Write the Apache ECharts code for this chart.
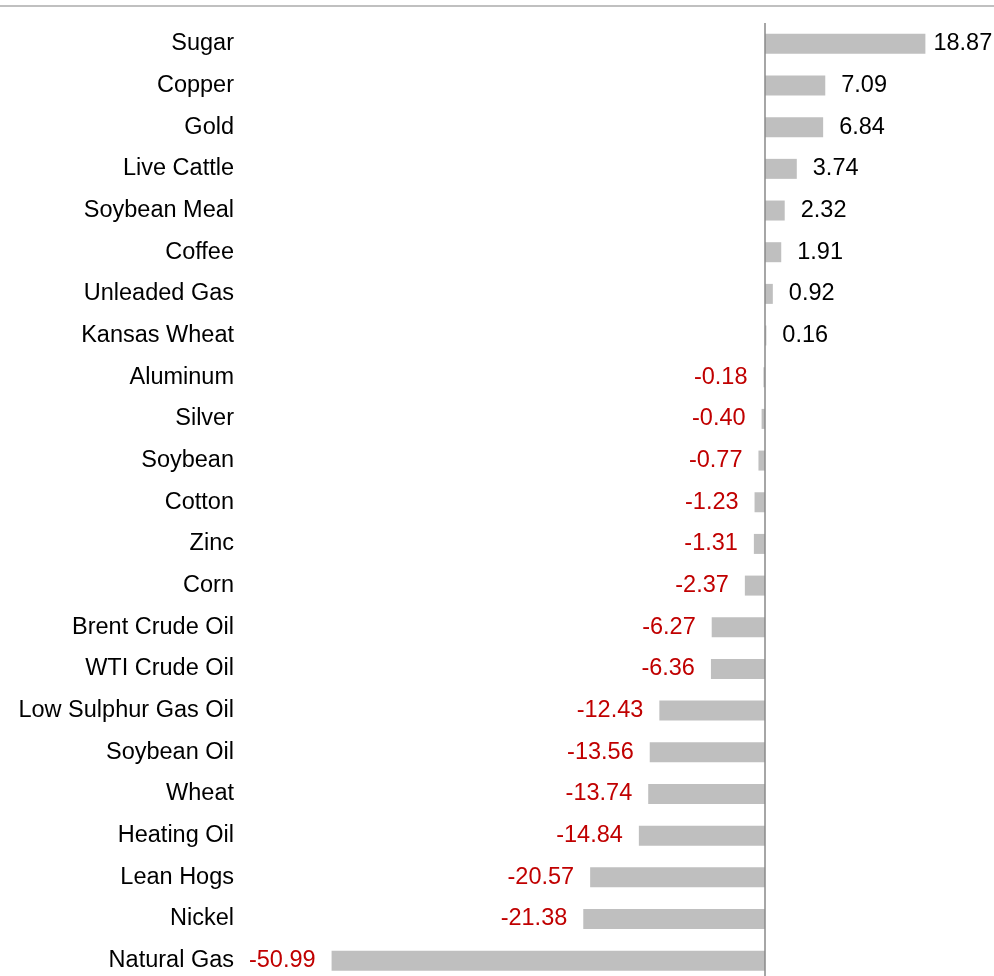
<!DOCTYPE html>
<html>
<head>
<meta charset="utf-8">
<script src="https://cdn.jsdelivr.net/npm/echarts@6/dist/echarts.min.js"></script>
<style>
html,body{margin:0;padding:0;background:#fff;}
#chart{width:994px;height:976px;}
</style>
</head>
<body>
<div id="chart"></div>
<script>
const categories = ["Sugar","Copper","Gold","Live Cattle","Soybean Meal","Coffee","Unleaded Gas","Kansas Wheat","Aluminum","Silver","Soybean","Cotton","Zinc","Corn","Brent Crude Oil","WTI Crude Oil","Low Sulphur Gas Oil","Soybean Oil","Wheat","Heating Oil","Lean Hogs","Nickel","Natural Gas"];
const values = [18.87,7.09,6.84,3.74,2.32,1.91,0.92,0.16,-0.18,-0.40,-0.77,-1.23,-1.31,-2.37,-6.27,-6.36,-12.43,-13.56,-13.74,-14.84,-20.57,-21.38,-50.99];

const maxVal = Math.max(...values);
const chart = echarts.init(document.getElementById('chart'), null, {renderer:'canvas'});
const font = 'Liberation Sans, Arial, sans-serif';
const seriesData = values.map(v => {
  const item = {value: v};
  if (v < 0) {
    item.label = {position: 'left', color: '#c00000'};
  } else if (v === maxVal) {
    item.label = {distance: 8};
  }
  return item;
});
chart.setOption({
  animation: false,
  graphic: [{
    type: 'rect', left: 0, top: 5, shape: {width: 994, height: 2},
    style: {fill: '#c0c0c0'}, silent: true
  }],
  grid: {left: 255, top: 23, width: 722.5, height: 958.5, containLabel: false, outerBoundsMode: 'none'},
  xAxis: {
    type: 'value', min: -60, max: 25, show: false,
    splitLine: {show: false}
  },
  yAxis: {
    type: 'category', data: categories, inverse: true,
    axisLine: {show: false, onZero: false},
    axisTick: {show: false},
    axisLabel: {margin: 21, fontFamily: font, fontSize: 23.5, color: '#000000', padding: [4, 0, 0, 0]}
  },
  series: [{
    type: 'bar', data: seriesData, barWidth: 20,
    itemStyle: {color: '#bfbfbf'},
    label: {show: true, position: 'right', distance: 16, fontFamily: font, fontSize: 23.5, color: '#000000',
      padding: [4, 0, 0, 0], formatter: p => p.value.toFixed(2)},
    markLine: {
      silent: true, symbol: ['none', 'none'], label: {show: false},
      lineStyle: {color: '#888888', width: 1.5, type: 'solid'},
      data: [{xAxis: 0}]
    }
  }]
});
</script>
</body>
</html>
